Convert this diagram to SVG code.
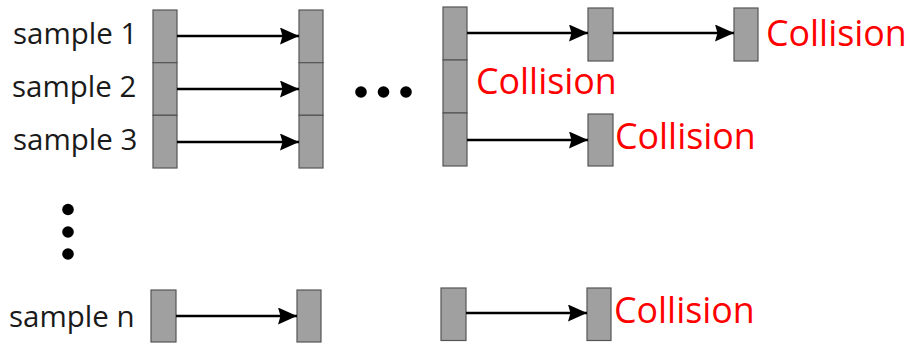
<svg xmlns="http://www.w3.org/2000/svg" width="912" height="343" viewBox="0 0 912 343">
  <style>
    .cell { fill: #a0a0a0; stroke: #555555; stroke-width: 1.2; }
    .lbl { font-family: "Open Sans", "Noto Sans", sans-serif; font-size: 29.5px; fill: #1a1a1a; }
    .hit { font-family: "Open Sans", "Noto Sans", sans-serif; font-size: 35.8px; fill: #ff0000; }
    .link { stroke: #000000; stroke-width: 2.6; fill: none; marker-end: url(#head); }
    .dot { fill: #000000; }
  </style>
  <defs>
    <marker id="head" markerUnits="userSpaceOnUse" markerWidth="20" markerHeight="18" refX="19" refY="8.5" orient="auto">
      <path d="M0,0 L19,8.5 L0,17 L2.5,8.5 Z" fill="#000000"/>
    </marker>
  </defs>

  <!-- row labels -->
  <g id="labels">
    <text class="lbl" x="13" y="44">sample 1</text>
    <text class="lbl" x="12" y="97">sample 2</text>
    <text class="lbl" x="13" y="150">sample 3</text>
    <text class="lbl" x="9" y="327">sample n</text>
  </g>

  <!-- first table -->
  <g id="table1">
    <rect class="cell" x="153" y="10" width="24" height="52.7"/>
    <rect class="cell" x="153" y="62.7" width="24" height="52.6"/>
    <rect class="cell" x="153" y="115.3" width="24" height="52.7"/>
    <rect class="cell" x="151" y="290" width="25" height="52"/>
  </g>

  <!-- second table -->
  <g id="table2">
    <rect class="cell" x="299" y="10" width="24" height="52.7"/>
    <rect class="cell" x="299" y="62.7" width="24" height="52.6"/>
    <rect class="cell" x="299" y="115.3" width="24" height="52.7"/>
    <rect class="cell" x="297" y="290" width="24" height="52"/>
  </g>

  <!-- later table -->
  <g id="table3">
    <rect class="cell" x="443" y="7" width="24" height="53"/>
    <rect class="cell" x="443" y="60" width="24" height="53"/>
    <rect class="cell" x="443" y="113" width="24" height="53"/>
    <rect class="cell" x="441" y="288" width="25" height="52.5"/>
  </g>

  <!-- chained entries -->
  <g id="chain1a"><rect class="cell" x="588" y="8" width="25" height="53"/></g>
  <g id="chain1b"><rect class="cell" x="734" y="8" width="24" height="53"/></g>
  <g id="chain3"><rect class="cell" x="588" y="114" width="25" height="52"/></g>
  <g id="chainN"><rect class="cell" x="587" y="288" width="24" height="52.5"/></g>

  <!-- connectors -->
  <g id="connectors">
    <line class="link" x1="177" y1="36" x2="299" y2="36"/>
    <line class="link" x1="177" y1="89" x2="299" y2="89"/>
    <line class="link" x1="177" y1="142" x2="299" y2="142"/>
    <line class="link" x1="176" y1="316" x2="297" y2="316"/>
    <line class="link" x1="467" y1="33" x2="588" y2="33"/>
    <line class="link" x1="613" y1="33" x2="734" y2="33"/>
    <line class="link" x1="467" y1="140" x2="588" y2="140"/>
    <line class="link" x1="466" y1="313" x2="587" y2="313"/>
  </g>

  <!-- collision marks -->
  <g id="collisions">
    <text class="hit" x="766" y="46">Collision</text>
    <text class="hit" x="476" y="94">Collision</text>
    <text class="hit" x="615" y="149">Collision</text>
    <text class="hit" x="614" y="323">Collision</text>
  </g>

  <!-- ellipsis dots -->
  <g id="ellipsis-h">
    <circle class="dot" cx="361" cy="92" r="5.8"/>
    <circle class="dot" cx="383.5" cy="92" r="5.8"/>
    <circle class="dot" cx="406" cy="92" r="5.8"/>
  </g>
  <g id="ellipsis-v">
    <circle class="dot" cx="68" cy="209.5" r="5.8"/>
    <circle class="dot" cx="68" cy="232" r="5.8"/>
    <circle class="dot" cx="68" cy="254" r="5.8"/>
  </g>
</svg>
